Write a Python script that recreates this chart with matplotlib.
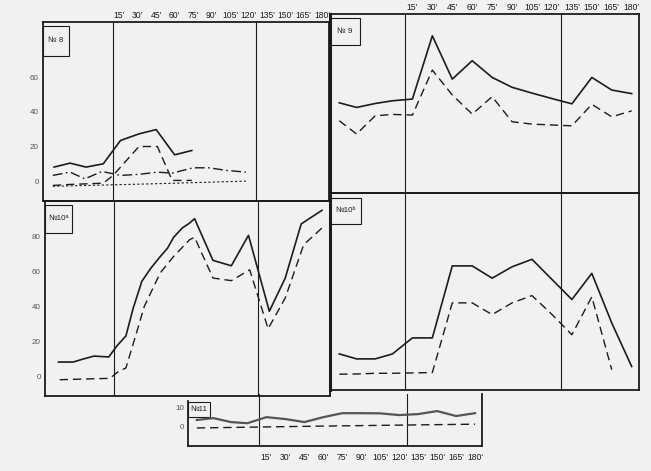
import matplotlib
matplotlib.use('Agg')
import matplotlib.pyplot as plt
from matplotlib.patches import Rectangle

plt.rcParams['font.family'] = ['Liberation Sans', 'DejaVu Sans']

W, H = 651, 471
INK = '#1c1c1c'
PAPER = '#f1f1f1'

# minutes; the four readings before 0 are the control readings
t = [-40, -27, -13, 0, 15, 30, 45, 60, 75, 90, 105, 120, 135, 150, 165, 180]
minute_ticks = t[4:]
minute_labels = ["15'", "30'", "45'", "60'", "75'", "90'", "105'", "120'",
                 "135'", "150'", "165'", "180'"]

# No 8
n8_t_solid = [-38, -25, -12, 2, 16, 31, 45, 60, 74]
n8_solid = [8.1, 10.4, 8.1, 10.0, 23.5, 27.3, 29.8, 15.2, 17.7]
n8_t_dash = [-39, -24, 2, 10, 31, 46, 58, 74]
n8_dash = [-2.5, -1.9, -1.2, 3.3, 20.0, 20.0, 0.4, 0.4]
n8_t_dashdot = [-39, -25, -13, 1, 16, 31, 46, 58, 75, 88, 102, 118]
n8_dashdot = [3.3, 5.2, 1.3, 5.6, 3.3, 3.9, 5.2, 4.6, 7.7, 7.7, 6.2, 5.2]
n8_t_dot = [-39, 40, 118]
n8_dot = [-3.0, -1.6, 0.0]

# No 9
n9_solid = [40.9, 38.2, 40.5, 42.1, 43.1, 80.2, 54.8, 65.6, 55.8, 50.0,
            46.6, 43.4, 40.3, 55.8, 48.4, 46.3]
n9_dash = [30.4, 22.6, 33.3, 34.1, 33.7, 60.1, 45.5, 34.3, 44.5, 29.8,
           28.4, 27.9, 27.4, 40.0, 32.7, 36.2]

# No 10a
n10a_t_solid = [-36, -24, -16, -7, 5, 12, 19, 25, 32, 39, 46, 53, 58, 65,
                71, 75, 90, 105, 119, 136, 149, 162, 179]
n10a_solid = [8.0, 8.0, 9.7, 11.4, 10.9, 17.5, 22.9, 38.9, 54.1, 61.3, 67.4,
              73.1, 79.3, 84.6, 87.4, 89.9, 66.1, 63.0, 80.4, 37.0, 56.0,
              86.9, 94.7]
n10a_t_dash = [-35, 6, 13, 19, 28, 34, 47, 58, 71, 75, 90, 105, 120, 135,
               149, 164, 179]
n10a_dash = [-2.1, -1.3, 2.7, 4.6, 25.5, 39.8, 58.9, 68.4, 77.9, 79.3, 56.0,
             54.5, 60.7, 27.0, 44.6, 75.0, 84.6]

# No 10b
n10b_solid = [8.9, 6.1, 6.1, 8.9, 17.9, 17.9, 58.4, 58.4, 51.5, 57.9, 62.1,
              50.8, 39.5, 54.2, 26.3, 1.8]
n10b_dash = [-2.5, -2.4, -2.0, -2.0, -1.8, -1.6, 37.6, 37.6, 31.0, 37.6,
             41.7, 31.1, 19.7, 41.0, 0.0]

# No 11
n11_solid = [3.2, 4.2, 2.1, 1.5, 4.7, 3.7, 2.1, 4.7, 6.8, 6.8, 6.7, 5.8,
             6.3, 7.9, 5.3, 6.8]
n11_t_dash = [-40, 60, 180]
n11_dash = [-1.0, 0.0, 1.0]

fig = plt.figure(figsize=(W / 100, H / 100), dpi=100, facecolor=PAPER)


def panel(box, ylim, name, name_box):
    x0, y0, x1, y1 = box
    ax = fig.add_axes([x0 / W, 1 - y1 / H, (x1 - x0) / W, (y1 - y0) / H])
    ax.set_facecolor('none')
    ax.set_xlim(-47, 185.5)
    ax.set_ylim(*ylim)
    for s in ax.spines.values():
        s.set_linewidth(1.3)
        s.set_color(INK)
    ax.set_xticks([])
    ax.set_yticks([])
    for v in (9.5, 126.5):
        ax.axvline(v, color=INK, lw=0.8)
    bx0, by0, bx1, by1 = name_box
    fw, fh = x1 - x0, y1 - y0
    ax.add_patch(Rectangle(((bx0 - x0) / fw, 1 - (by1 - y0) / fh),
                           (bx1 - bx0) / fw, (by1 - by0) / fh,
                           transform=ax.transAxes, fill=False, lw=0.8,
                           ec=INK, clip_on=False))
    ax.text(((bx0 + bx1) / 2 - x0) / fw, 1 - ((by0 + by1) / 2 - y0) / fh,
            name, transform=ax.transAxes, ha='center', va='center',
            fontsize=5.8, color=INK)
    return ax


def top_minutes(ax):
    ax.xaxis.tick_top()
    ax.set_xticks(minute_ticks, minute_labels)
    ax.tick_params(axis='x', length=0, pad=1.5, labelsize=6.2, labelcolor=INK)


def y_numbers(ax, ticks):
    ax.set_yticks(ticks)
    ax.tick_params(axis='y', length=0, pad=3, labelsize=5.8, labelcolor='#555555')


solid = dict(color=INK, lw=1.2)
dashed = dict(color=INK, lw=1.0, dashes=(6, 3.5))

ax = panel((43, 22, 329, 201), (-11.5, 92), '№ 8', (43, 26, 69, 56))
top_minutes(ax)
y_numbers(ax, [0, 20, 40, 60])
ax.plot(n8_t_solid, n8_solid, **solid)
ax.plot(n8_t_dash, n8_dash, **dashed)
ax.plot(n8_t_dashdot, n8_dashdot, color=INK, lw=1.0, dashes=(7, 2.5, 1.2, 2.5))
ax.plot(n8_t_dot, n8_dot, color=INK, lw=0.8, dashes=(2, 2))

ax = panel((330, 14, 639, 193), (-12, 93), '№ 9', (330, 18, 360, 45))
ax.spines['left'].set_linewidth(2.2)
top_minutes(ax)
ax.plot(t, n9_solid, **solid)
ax.plot(t, n9_dash, **dashed)

ax = panel((45, 201, 330, 396), (-11.4, 100), '№10ᵃ', (45, 205, 72, 233))
y_numbers(ax, [0, 20, 40, 60, 80])
ax.plot(n10a_t_solid, n10a_solid, **solid)
ax.plot(n10a_t_dash, n10a_dash, **dashed)

ax = panel((330, 193, 639, 390), (-11.4, 99.4), '№10ᵇ', (330, 198, 361, 224))
ax.spines['left'].set_linewidth(2.2)
ax.plot(t, n10b_solid, **solid)
ax.plot(t[:-1], n10b_dash, **dashed)

ax = panel((188, 394, 482, 446), (-10.5, 16.9), '№11', (188, 402, 210, 417))
ax.spines['top'].set_visible(False)
ax.spines['left'].set_bounds(-10.5, 13.2)
y_numbers(ax, [0, 10])
ax.set_xticks(minute_ticks, minute_labels)
ax.tick_params(axis='x', length=0, pad=5, labelsize=6.2, labelcolor=INK)
ax.plot(t, n11_solid, color='#555555', lw=1.6)
ax.plot(n11_t_dash, n11_dash, **dashed)

fig.savefig('out.png', dpi=100, facecolor=PAPER)
